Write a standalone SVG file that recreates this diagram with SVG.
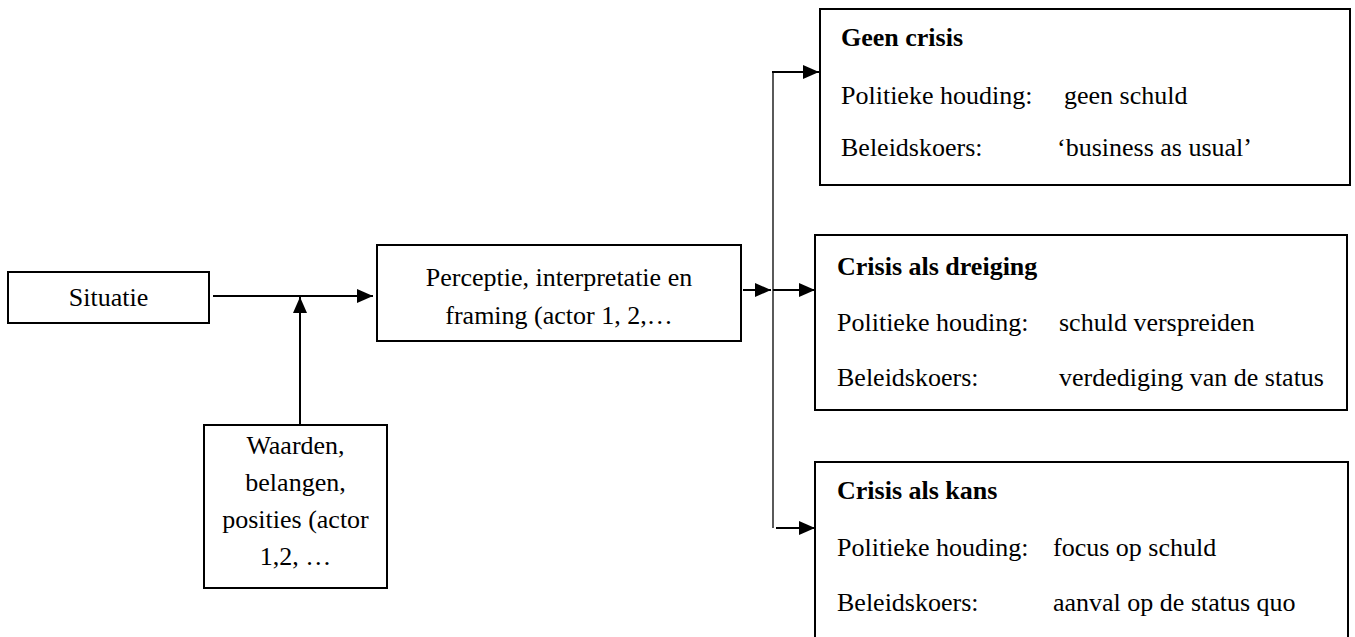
<svg xmlns="http://www.w3.org/2000/svg" width="1355" height="637" viewBox="0 0 1355 637">
<style>
  .box { fill: #fff; stroke: #000; stroke-width: 2; }
  .t { font-family: "Liberation Serif", "Times New Roman", serif; font-size: 26px; fill: #000; }
  .c { text-anchor: middle; }
  .b { font-weight: bold; }
  .ln { stroke: #000; stroke-width: 2; fill: none; }
  .thin { stroke: #000; stroke-width: 1.3; fill: none; }
</style>
<defs>
  <marker id="ah" markerUnits="userSpaceOnUse" markerWidth="16" markerHeight="14" refX="16" refY="7" orient="auto">
    <path d="M0,0 L16,7 L0,14 Z" fill="#000"/>
  </marker>
</defs>
<rect width="1355" height="637" fill="#fff"/>

<g id="connectors">
  <line class="ln" x1="213" y1="296" x2="373" y2="296" marker-end="url(#ah)"/>
  <line class="ln" x1="300" y1="425" x2="300" y2="297" marker-end="url(#ah)"/>
  <line class="ln" x1="743" y1="290" x2="771" y2="290" marker-end="url(#ah)"/>
  <line class="thin" x1="773" y1="72" x2="773" y2="528"/>
  <line class="ln" x1="772" y1="72" x2="819" y2="72" marker-end="url(#ah)"/>
  <line class="ln" x1="773" y1="290" x2="815" y2="290" marker-end="url(#ah)"/>
  <line class="ln" x1="776" y1="528" x2="815" y2="528" marker-end="url(#ah)"/>
</g>

<g id="situatie">
  <rect class="box" x="8" y="272" width="201" height="51"/>
  <text class="t c" x="108.5" y="306">Situatie</text>
</g>

<g id="waarden">
  <rect class="box" x="204" y="425" width="183" height="163"/>
  <text class="t c" x="295.5" y="454">Waarden,</text>
  <text class="t c" x="295.5" y="491">belangen,</text>
  <text class="t c" x="295.5" y="528">posities (actor</text>
  <text class="t c" x="295.5" y="565">1,2, …</text>
</g>

<g id="perceptie">
  <rect class="box" x="377" y="245" width="364" height="96"/>
  <text class="t c" x="559" y="286">Perceptie, interpretatie en</text>
  <text class="t c" x="559" y="324">framing (actor 1, 2,…</text>
</g>

<g id="geen-crisis">
  <rect class="box" x="820" y="9" width="530" height="176"/>
  <text class="t b" x="841" y="46">Geen crisis</text>
  <text class="t" x="841" y="104">Politieke houding:</text>
  <text class="t" x="1064" y="104">geen schuld</text>
  <text class="t" x="841" y="156">Beleidskoers:</text>
  <text class="t" x="1057" y="156">‘business as usual’</text>
</g>

<g id="crisis-dreiging">
  <rect class="box" x="815" y="235" width="532" height="175"/>
  <text class="t b" x="837" y="275">Crisis als dreiging</text>
  <text class="t" x="837" y="331">Politieke houding:</text>
  <text class="t" x="1059" y="331">schuld verspreiden</text>
  <text class="t" x="837" y="386">Beleidskoers:</text>
  <text class="t" x="1059" y="386">verdediging van de status</text>
</g>

<g id="crisis-kans">
  <rect class="box" x="815" y="462" width="533" height="186"/>
  <text class="t b" x="837" y="499">Crisis als kans</text>
  <text class="t" x="837" y="556">Politieke houding:</text>
  <text class="t" x="1053" y="556">focus op schuld</text>
  <text class="t" x="837" y="611">Beleidskoers:</text>
  <text class="t" x="1053" y="611">aanval op de status quo</text>
</g>
</svg>
